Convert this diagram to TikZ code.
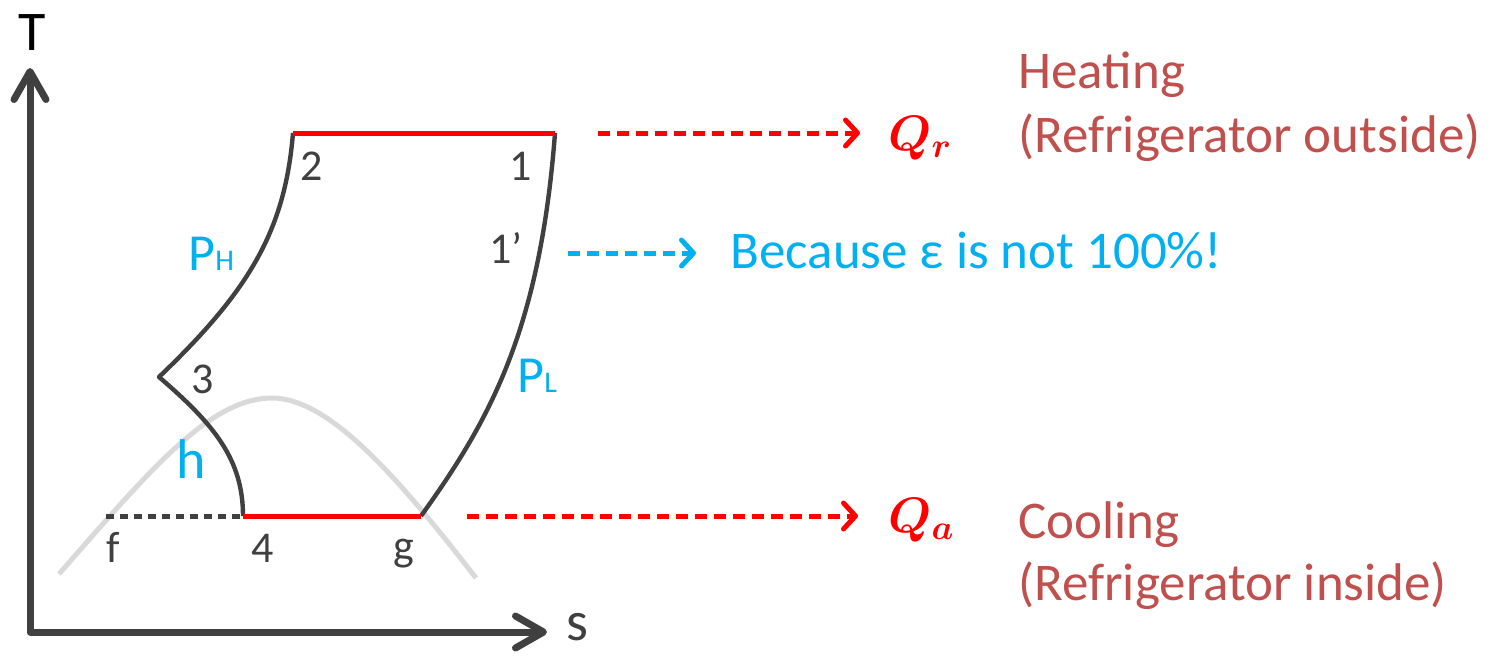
\documentclass[tikz,border=0pt]{standalone}
\usepackage{amsmath}
\usepackage{fontspec}
\setmainfont{Carlito}
\usetikzlibrary{arrows.meta}
\definecolor{dgray}{HTML}{404040}
\definecolor{hotred}{HTML}{FF0000}
\definecolor{skyblue}{HTML}{00B0F0}
\definecolor{brick}{HTML}{C0504D}
\definecolor{dome}{HTML}{D9D9D9}
\newcommand{\fs}[1]{\fontsize{#1}{1.15\dimexpr#1pt\relax}\selectfont}
\tikzset{
  axisline/.style={line width=3.5pt,draw=dgray,
    {Straight Barb[round,length=14pt,width=16pt]}-{Straight Barb[round,length=14pt,width=16pt]}},
  cycleline/.style={line width=2.2pt,draw=dgray},
  heatline/.style={line width=2.5pt,draw=hotred},
  dashto/.style={line width=2.5pt,dash pattern=on 6pt off 3.5pt,
    -{Straight Barb[round,length=6pt,width=13pt]}},
  lbl/.style={inner sep=0pt,anchor=base west,text=dgray,font=\fs{22}},
  plbl/.style={inner sep=0pt,anchor=base west,text=skyblue,font=\fs{26}},
  note/.style={inner sep=0pt,anchor=base west,text=brick,font=\fs{26.5}}
}
\begin{document}
\begin{tikzpicture}[x=0.5pt,y=-0.5pt,line join=round]
  \useasboundingbox (0,0) rectangle (1493,655);
  % saturation dome
  \draw[dome,line width=2.5pt] (59,574) .. controls (150,470) and (210,398) .. (272,398)
    .. controls (330,398) and (400,480) .. (476,578);
  % axes
  \coordinate (ttop) at (30,68);
  \coordinate (orig) at (30,632);
  \coordinate (send) at (547,632);
  \draw[axisline] (ttop) -- (orig) -- (send);
  \node[inner sep=0pt,anchor=base west,font=\fs{28}] (tlab) at (18,50) {T};
  \node[lbl,font=\fs{28}] (slab) at (566,640) {s};
  % cycle state points
  \coordinate (p1) at (555,133);
  \coordinate (p2) at (293,133);
  \coordinate (p3) at (159,377);
  \coordinate (p4) at (243,516);
  \coordinate (pg) at (421,516);
  \coordinate (pf) at (106,516);
  % process lines
  \draw[cycleline] (p2) .. controls (285,230) and (250,290) .. (p3)
    .. controls (215,425) and (243,460) .. (p4);
  \draw[cycleline] (pg) .. controls (490,420) and (540,330) .. (p1);
  \draw[cycleline,line width=2.5pt,dash pattern=on 4pt off 3pt] (pf) -- (p4);
  \draw[heatline] (p2) -- (p1);
  \draw[heatline] (p4) -- (pg);
  % point labels
  \node[lbl] (n2) at (300,180) {2};
  \node[lbl] (n1) at (509,180) {1};
  \node[lbl] (n1p) at (489,263) {1’};
  \node[lbl] (n3) at (191,393) {3};
  \node[lbl] (nf) at (106,562) {f};
  \node[lbl] (n4) at (251,562) {4};
  \node[lbl] (ng) at (393,560) {g};
  \node[plbl] (ph) at (188,270) {P{\fs{15}H}};
  \node[plbl] (pl) at (517,392) {P{\fs{15}L}};
  \node[plbl,font=\fs{28}] (hh) at (176,478) {h};
  % heat flows
  \node[inner sep=0pt,anchor=base west,text=hotred,font=\fs{23}] (qr) at (888,150) {$\boldsymbol{Q_r}$};
  \node[inner sep=0pt,anchor=base west,text=hotred,font=\fs{23}] (qa) at (888,532) {$\boldsymbol{Q_a}$};
  \coordinate (qrs) at (598,133);
  \coordinate (qas) at (467,516);
  \draw[dashto,hotred] (qrs) -- ([xshift=-14pt]qrs -| qr.west);
  \draw[dashto,hotred] (qas) -- ([xshift=-15pt]qas -| qa.west);
  \node[note] (heat) at (1018,88) {Heating};
  \node[note] (heatwhere) at (1018,152) {(Refrigerator outside)};
  \node[note] (cool) at (1018,538) {Cooling};
  \node[note] (coolwhere) at (1018,600) {(Refrigerator inside)};
  % efficiency remark
  \node[inner sep=0pt,anchor=base west,text=skyblue,font=\fs{26.5}] (eps) at (730,268) {Because ε is not 100\%!};
  \coordinate (bcs) at (568,253);
  \draw[dashto,skyblue] (bcs) -- ([xshift=-17pt]bcs -| eps.west);
\end{tikzpicture}
\end{document}
